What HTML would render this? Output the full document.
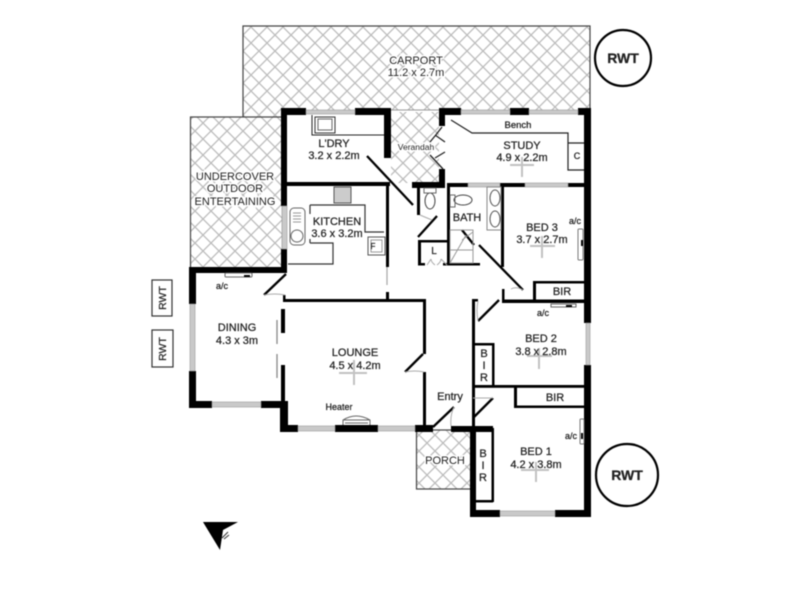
<!DOCTYPE html>
<html><head><meta charset="utf-8"><style>
html,body{margin:0;padding:0;background:#fff;width:800px;height:600px;overflow:hidden}
svg{display:block;filter:blur(.45px)}
text{font-family:"Liberation Sans",sans-serif;font-size:11px;fill:#222;stroke:#222;stroke-width:.25px;text-anchor:middle}
.h{paint-order:stroke;stroke:#fff;stroke-width:3px;fill:#222}
</style></head><body>
<svg width="800" height="600" viewBox="0 0 800 600" xmlns="http://www.w3.org/2000/svg">
<defs><pattern id="h" width="16" height="16" patternUnits="userSpaceOnUse" patternTransform="translate(3 3)">
<path d="M0 0L16 16M16 0L0 16" stroke="#bcbcbc" stroke-width="1.300" fill="none"/></pattern></defs>
<rect width="800" height="600" fill="#fff"/>
<!-- hatched -->
<g fill="url(#h)" stroke="#444" stroke-width="1.200">
<path d="M243 111V26H590V110H281V117H243Z" stroke="none"/>
<path d="M243 117V26H590V108"  fill="none"/>
<rect x="190.500" y="117" width="92" height="152"/>
<rect x="416.500" y="430" width="55" height="59"/>
</g>
<path d="M391 112H439V183H391Z" fill="url(#h)"/>
<path d="M391 110H439" stroke="#999" stroke-width="1"/>
<!-- thick walls -->
<g fill="#000">
<rect x="281" y="108" width="25" height="7"/><rect x="355" y="108" width="36" height="7"/>
<rect x="281" y="108" width="6" height="98"/><rect x="384" y="108" width="7" height="50"/>
<rect x="281" y="249" width="6" height="24"/><rect x="287" y="182" width="103" height="4"/>
<rect x="386" y="182" width="3" height="85"/><rect x="386" y="292" width="3" height="8"/>
<rect x="439" y="108" width="22" height="7"/><rect x="510" y="108" width="19" height="7"/><rect x="578" y="108" width="13" height="7"/>
<rect x="439" y="108" width="6" height="18"/><rect x="439" y="169" width="6" height="19"/>
<rect x="412" y="182" width="33" height="6"/><rect x="447" y="183" width="21" height="4"/><rect x="500" y="183" width="25" height="4"/><rect x="568" y="183" width="16" height="4"/>
<rect x="584" y="108" width="7" height="215"/><rect x="584" y="365" width="7" height="152"/>
<rect x="417" y="188" width="3" height="27"/><rect x="447" y="187" width="3" height="78"/>
<rect x="418" y="240" width="3" height="25"/><rect x="418" y="240" width="31" height="2.500"/><rect x="418" y="263" width="7" height="2.500"/><rect x="443" y="263" width="37" height="2.500"/>
<rect x="501" y="187" width="3" height="80"/><rect x="502" y="289" width="2.500" height="12"/><rect x="502" y="299.500" width="82" height="3.500"/>
<rect x="533" y="281" width="3" height="19"/><rect x="533" y="281" width="52" height="2.500"/>
<rect x="472" y="299" width="3" height="129"/><rect x="472" y="299" width="6" height="2.500"/>
<rect x="475" y="343" width="19" height="2.500"/><rect x="492" y="343" width="2.500" height="43"/>
<rect x="475" y="385" width="110" height="2.800"/><rect x="514" y="387" width="3" height="20"/><rect x="514" y="405.500" width="71" height="2.500"/>
<rect x="470" y="426" width="6" height="91"/><rect x="470" y="510" width="30" height="7"/><rect x="555" y="510" width="36" height="7"/>
<rect x="451" y="426" width="42" height="6"/><rect x="415" y="425" width="18" height="7"/>
<rect x="491.500" y="428" width="2.500" height="74"/><rect x="476" y="500" width="17" height="2.500"/><rect x="472" y="418" width="2" height="10"/>
<rect x="283" y="299" width="143" height="3"/><rect x="423" y="299" width="3" height="55"/><rect x="423" y="372" width="3" height="58"/>
<rect x="280" y="425" width="18" height="7"/><rect x="335" y="425" width="43" height="7"/><rect x="280" y="401" width="8" height="31"/>
<rect x="189" y="401" width="23" height="7"/><rect x="261" y="401" width="27" height="7"/>
<rect x="189" y="267" width="7" height="37"/><rect x="189" y="371" width="7" height="37"/><rect x="189" y="267" width="98" height="6"/>
<rect x="283" y="295" width="2.500" height="7"/><rect x="281" y="309" width="4" height="24"/><rect x="281" y="365" width="4" height="36"/>
</g>
<!-- windows -->
<g fill="#c9c9c9" stroke="#999" stroke-width=".6">
<rect x="306" y="110" width="49" height="4"/><rect x="461" y="110" width="49" height="4"/><rect x="529" y="110" width="49" height="4"/>
<rect x="282" y="206" width="5" height="43"/><rect x="468" y="183" width="32" height="4"/><rect x="525" y="183" width="43" height="4"/>
<rect x="586" y="323" width="4" height="42"/><rect x="500" y="511" width="55" height="5"/>
<rect x="298" y="426" width="37" height="5"/><rect x="378" y="426" width="37" height="5"/><rect x="212" y="402" width="49" height="5"/>
<rect x="190" y="304" width="5" height="67"/>
</g>
<!-- doors -->
<g stroke="#000" stroke-width="2.300" fill="none">
<path d="M367 156L413 205"/><path d="M418 237L437 216"/><path d="M462 230L474 245"/><path d="M479 245L523 290"/>
<path d="M478 321L499 300"/><path d="M473 418L493 398"/><path d="M433 427L454 407"/><path d="M405 372L423 354"/><path d="M264 295L286 274"/>
</g>
<g stroke="#333" stroke-width="1" fill="none">
<path d="M442 127Q436 135 430 142M430 155L443 169M435 135L445 142M435 158L445 152" stroke="#222" stroke-width="1.300"/>
<path d="M435 265Q431 262 431 259M437 265Q441 262 441 259M427 265L431 259M447 265L441 259" stroke="#aaa"/>
<path d="M264 295Q275 293 285 295M405 372Q415 370 424 372M478 321Q476 310 478 301M454 407Q450 415 451 426M473 398Q483 398 493 398M511 289Q516 286 523 290M420 215Q427 218 432 220" stroke="#aaa"/>
<!-- bench / fittings -->
<path d="M451 120L472 133H568V170H584M568 143H584" stroke="#222" stroke-width="1.200"/>
<path d="M312 115V135H384" stroke="#222"/><rect x="315" y="117" width="20" height="16"/><rect x="318" y="119" width="14" height="11" stroke="#666"/>
<path d="M310 205H365V232H384M310 205V214M310 243H333V264H288M310 243V239" stroke="#333" stroke-width="1.200"/>
<rect x="334" y="187" width="17" height="16" fill="#ccc" stroke="#555"/>
<rect x="368" y="237" width="17" height="18" stroke="#555"/><rect x="371" y="240" width="11" height="12" stroke="#999"/>
<rect x="290" y="208" width="15" height="37" rx="4" stroke="#666"/><circle cx="297" cy="236" r="6" stroke="#666"/><path d="M293 213H301M293 216H301M293 219H301M293 222H301" stroke="#999"/>
<ellipse cx="430" cy="201" rx="5" ry="8" stroke="#444"/><rect x="424" y="188" width="12" height="5" stroke="#666"/>
<ellipse cx="463" cy="200" rx="9" ry="5" stroke="#444"/><rect x="450" y="195" width="5" height="12" stroke="#666"/>
<rect x="487" y="187" width="14" height="43" stroke="#888"/><ellipse cx="495" cy="198" rx="5" ry="8" stroke="#555"/><ellipse cx="495" cy="219" rx="5" ry="8" stroke="#555"/>
<path d="M450 230H473V263H450ZM450 263L466 235M450 250H473M462 240L473 232" stroke="#999"/>
<rect x="551" y="304" width="25" height="3" stroke="#666"/><rect x="225" y="273" width="27" height="4" rx="1" stroke="#666"/>
<rect x="578" y="229" width="5" height="31" rx="1" stroke="#777"/><rect x="580" y="419" width="4" height="25" rx="1" stroke="#777"/>
<path d="M343 425V420Q356 412 370 420V425M343 420H370M345 423H368" stroke="#666"/>
<path d="M277 320V344M277 354V378" stroke="#888" stroke-width="1.300"/>
<path d="M387 267V285" stroke="#aaa" stroke-width="1.300"/>
</g>
<!-- fan crosses -->
<g stroke="#c2c2c2" stroke-width="2" fill="none">
<path d="M339 373H367M354 360V385"/><path d="M510 165H534M522 157V177"/><path d="M530 246H555M542 236V258"/>
<path d="M527 356H552M539 348V369"/><path d="M521 470H549M536 462V482"/>
</g>
<g fill="#000"><rect x="581" y="240" width="2" height="6"/><rect x="581" y="433" width="2" height="6"/><rect x="244" y="275" width="6" height="2"/><rect x="566" y="305" width="6" height="2"/></g>
<!-- RWT -->
<g fill="#fff" stroke="#000" stroke-width="2.200"><circle cx="623" cy="58" r="28"/><circle cx="627" cy="475" r="31"/></g>
<text x="623" y="63" style="font-size:14px;font-weight:bold" >RWT</text>
<text x="627" y="480" style="font-size:14px;font-weight:bold">RWT</text>
<g fill="#fff" stroke="#333" stroke-width="1.200"><rect x="152" y="280" width="20" height="36"/><rect x="152" y="330" width="21" height="37"/></g>
<text transform="translate(166 298) rotate(-90)" style="font-size:10.500px">RWT</text>
<text transform="translate(166 349) rotate(-90)" style="font-size:10.500px">RWT</text>
<!-- labels -->
<text class="h" x="416" y="64">CARPORT</text><text class="h" x="416" y="76">11.2 x 2.7m</text>
<text class="h" x="235" y="180">UNDERCOVER</text><text class="h" x="235" y="192">OUTDOOR</text><text class="h" x="235" y="205">ENTERTAINING</text>
<text x="334" y="147">L'DRY</text><text x="334" y="159">3.2 x 2.2m</text>
<text x="337" y="225">KITCHEN</text><text x="337" y="237">3.6 x 3.2m</text>
<text class="h" x="416" y="150" style="font-size:8.500px">Verandah</text>
<text x="518" y="128" style="font-size:9.500px">Bench</text>
<text x="522" y="149">STUDY</text><text x="522" y="161">4.9 x 2.2m</text>
<text x="577" y="159" style="font-size:9px">C</text>
<text x="467" y="221">BATH</text>
<text x="434" y="254" style="font-size:10px">L</text><text x="373" y="249" style="font-size:8px">F</text>
<text x="542" y="231">BED 3</text><text x="542" y="243">3.7 x 2.7m</text>
<text x="575" y="224" style="font-size:9px">a/c</text>
<text x="562" y="295">BIR</text>
<text x="543" y="316" style="font-size:9px">a/c</text>
<text x="541" y="342">BED 2</text><text x="541" y="355">3.8 x 2.8m</text>
<text x="484" y="357">B</text><text x="484" y="369">I</text><text x="484" y="381">R</text>
<text x="555" y="401">BIR</text>
<text x="450" y="400">Entry</text>
<text class="h" x="445" y="464">PORCH</text>
<text x="483" y="457">B</text><text x="483" y="469">I</text><text x="483" y="481">R</text>
<text x="536" y="455">BED 1</text><text x="536" y="468">4.2 x 3.8m</text>
<text x="571" y="439" style="font-size:9px">a/c</text>
<text x="237" y="331">DINING</text><text x="237" y="344">4.3 x 3m</text>
<text x="222" y="289" style="font-size:9px">a/c</text>
<text x="355" y="356">LOUNGE</text><text x="355" y="369">4.5 x 4.2m</text>
<text x="339" y="410" style="font-size:9px">Heater</text>
<!-- north -->
<path d="M203 522H238L223 530L220 550Z" fill="#000"/>
<path d="M222 538L228 532M224 539L229 535" stroke="#333" stroke-width="1"/>
</svg></body></html>
